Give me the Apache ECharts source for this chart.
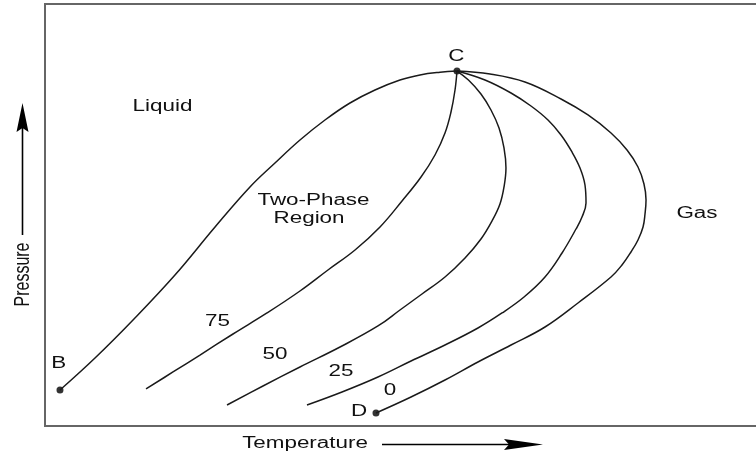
<!DOCTYPE html>
<html>
<head>
<meta charset="utf-8">
<script src="https://cdn.jsdelivr.net/npm/echarts@6/dist/echarts.min.js"></script>
<style>
html,body{margin:0;padding:0;background:#fff;}
#chart{width:756px;height:454px;}
</style>
</head>
<body>
<div id="chart"></div>
<script>
// Temperature (x) / Pressure (y) in arbitrary units 0-100
const bubbleCurve = [[2.05,8.53],[6.84,16.11],[12.04,25.12],[17.78,35.78],[23.26,47.16],[28.04,56.64],[31.46,62.32],[34.88,67.77],[38.30,72.51],[41.72,76.54],[45.14,79.62],[48.56,81.99],[51.30,83.18],[54.04,83.82],[56.36,84.12]];
const curve75 = [[56.36,84.12],[56.09,79.62],[55.54,74.41],[54.72,69.43],[53.35,64.22],[51.44,59.00],[48.84,53.32],[45.83,47.16],[42.41,41.71],[38.71,36.97],[34.88,31.99],[30.37,26.78],[25.72,21.80],[21.20,16.82],[17.51,12.80],[13.82,8.77]];
const curve50 = [[56.36,84.12],[57.93,81.99],[59.64,78.67],[61.01,74.88],[62.11,70.62],[62.79,65.88],[63.06,61.14],[62.79,56.64],[62.24,52.61],[61.15,48.58],[59.64,44.31],[57.46,39.81],[54.72,35.31],[51.57,31.28],[48.56,27.49],[45.55,23.70],[40.36,18.72],[34.88,13.98],[29.82,9.48],[24.90,4.98]];
const curve25 = [[56.36,84.12],[60.19,81.99],[63.75,78.91],[66.48,75.83],[68.81,72.51],[70.59,68.96],[72.09,64.93],[73.19,61.14],[73.87,57.11],[74.01,52.84],[73.46,49.53],[72.64,46.68],[70.73,41.00],[68.40,35.31],[65.53,30.57],[62.52,26.78],[59.23,23.22],[54.72,19.19],[50.07,15.40],[45.55,11.61],[40.63,8.06],[35.84,4.98]];
const dewCurve = [[56.36,84.12],[60.88,83.41],[65.66,81.52],[70.59,77.49],[74.28,73.70],[77.43,69.43],[79.62,65.40],[81.12,61.37],[81.94,57.35],[82.22,53.55],[82.08,50.24],[81.81,47.16],[81.12,44.08],[80.16,41.23],[78.93,38.15],[77.43,35.31],[72.91,29.15],[68.40,23.46],[63.75,19.19],[59.23,15.17],[54.72,10.90],[50.07,6.87],[45.28,3.08]];
const keyPoints = [[2.05,8.53],[56.36,84.12],[45.28,3.08]];
const labelTexts = ['Liquid','Two-Phase','Region','Gas','C','B','D','75','50','25','0'];
const labelAnchors = [[16.07,75.66],[36.73,53.32],[36.12,49.17],[89.19,50.24],[56.27,87.61],[1.89,14.69],[42.96,3.39],[23.60,24.64],[31.46,16.82],[40.49,12.80],[47.20,8.29]];
const xTitle = 'Temperature';
const yTitle = 'Pressure';

const chart = echarts.init(document.getElementById('chart'), null, {renderer:'canvas'});
const lineStyle = {color:'#1a1a1a', width:1.5};
function curveSeries(d){
  return {type:'line', data:d, smooth:0.4, showSymbol:false, symbol:'none', lineStyle:lineStyle, silent:true, animation:false};
}
chart.setOption({
  animation:false,
  backgroundColor:'#fff',
  grid:{left:45, top:4, width:731, height:422, outerBoundsMode:'none', containLabel:false,
        show:true, borderColor:'#666', borderWidth:2, backgroundColor:'transparent'},
  xAxis:{type:'value', min:0, max:100, axisLine:{show:false}, axisTick:{show:false}, axisLabel:{show:false}, splitLine:{show:false}},
  yAxis:{type:'value', min:0, max:100, axisLine:{show:false}, axisTick:{show:false}, axisLabel:{show:false}, splitLine:{show:false}},
  series:[
    curveSeries(bubbleCurve),
    curveSeries(curve75),
    curveSeries(curve50),
    curveSeries(curve25),
    curveSeries(dewCurve),
    {type:'scatter', data:keyPoints, symbol:'circle', symbolSize:7, itemStyle:{color:'#000'}, silent:true, animation:false}
  ]
});

const font = '16px "Liberation Sans", Arial, sans-serif';
const graphics = [];
labelTexts.forEach(function(t,i){
  const p = chart.convertToPixel({gridIndex:0}, labelAnchors[i]);
  graphics.push({type:'text', x:p[0], y:p[1], scaleX:1.4, silent:true,
    style:{text:t, x:0, y:0, font:font, fill:'#111',
      align:'center', verticalAlign:'middle', textAlign:'center', textVerticalAlign:'middle'}});
});
// axis titles with arrows
graphics.push({type:'text', x:22.5, y:274.5, rotation:Math.PI/2, scaleY:1.4, silent:true,
  style:{text:yTitle, x:0, y:0, font:font, fill:'#111', align:'center', verticalAlign:'middle', textAlign:'center', textVerticalAlign:'middle'}});
graphics.push({type:'line', silent:true, shape:{x1:22.5, y1:235, x2:22.5, y2:125}, style:{stroke:'#000', lineWidth:1.6}});
graphics.push({type:'polygon', silent:true, shape:{points:[[22.5,103],[16.5,132],[22.5,128],[28.5,132]]}, style:{fill:'#000'}});
graphics.push({type:'text', x:305, y:444, scaleX:1.4, silent:true,
  style:{text:xTitle, x:0, y:0, font:font, fill:'#111', align:'center', verticalAlign:'middle', textAlign:'center', textVerticalAlign:'middle'}});
graphics.push({type:'line', silent:true, shape:{x1:382, y1:444.5, x2:520, y2:444.5}, style:{stroke:'#000', lineWidth:1.6}});
graphics.push({type:'polygon', silent:true, shape:{points:[[543,444.5],[504,439],[509,444.5],[504,450]]}, style:{fill:'#000'}});

chart.setOption({graphic:graphics});
</script>
</body>
</html>
